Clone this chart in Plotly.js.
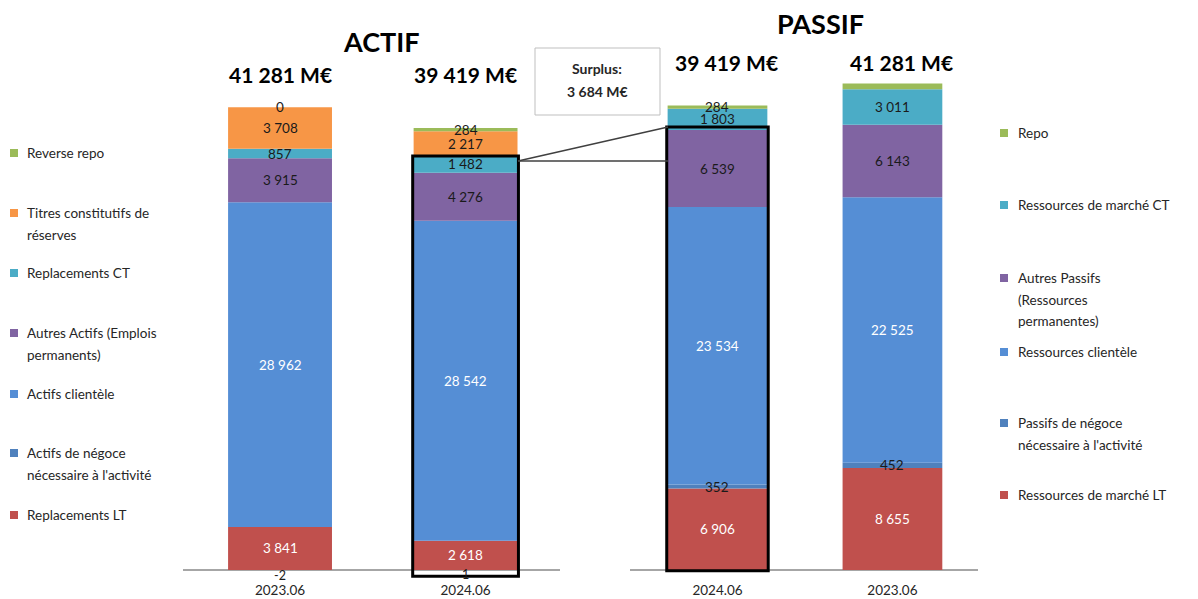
<!DOCTYPE html>
<html><head><meta charset="utf-8">
<script src="https://cdn.plot.ly/plotly-3.0.1.min.js"></script>
<style>html,body{margin:0;padding:0;background:#fff}#chart{width:1198px;height:599px}</style>
</head><body><div id="chart"></div>
<script>
// ---------- DATA ----------
const actifCats = ['2023.06', '2024.06'];
const actifNames = ['Replacements LT', "Actifs de négoce<br>nécessaire à l'activité", 'Actifs clientèle',
  'Autres Actifs (Emplois<br>permanents)', 'Replacements CT', 'Titres constitutifs de<br>réserves', 'Reverse repo'];
const actifReplLT = [3841, 2618];
const actifNegoce = [-2, 1];
const actifClientele = [28962, 28542];
const actifAutres = [3915, 4276];
const actifReplCT = [857, 1482];
const actifTitres = [3708, 2217];
const actifRevRepo = [0, 284];
const actifTotals = [41281, 39419];

const passifCats = ['2024.06', '2023.06'];
const passifNames = ['Ressources de marché LT', "Passifs de négoce<br>nécessaire à l'activité", 'Ressources clientèle',
  'Autres Passifs<br>(Ressources<br>permanentes)', 'Ressources de marché CT', 'Repo'];
const passifResLT = [6906, 8655];
const passifNegoce = [352, 452];
const passifClientele = [23534, 22525];
const passifAutres = [6539, 6143];
const passifResCT = [1803, 3011];
const passifRepo = [284, 495];
const passifTotals = [39419, 41281];
const passifLabelShown = [[true,true],[true,true],[true,true],[true,true],[true,true],[true,false]];

const surplus = 3684;

// ---------- STYLE ----------
const W = 1198, H = 599;
const px = x => x / W, py = y => 1 - y / H;
const FONT = 'Lato, "Open Sans", sans-serif';
const actifColors = ['#C0504D', '#4F81BD', '#558ED5', '#8064A2', '#4BACC6', '#F79646', '#9BBB59'];
const passifColors = ['#C0504D', '#4F81BD', '#558ED5', '#8064A2', '#4BACC6', '#9BBB59'];
const whiteLabel = [true, false, true, false, false, false, false];

const actifSeries = [actifReplLT, actifNegoce, actifClientele, actifAutres, actifReplCT, actifTitres, actifRevRepo];
const passifSeries = [passifResLT, passifNegoce, passifClientele, passifAutres, passifResCT, passifRepo];

function fmt(n) {
  const s = String(Math.abs(n)).replace(/\B(?=(\d{3})+(?!\d))/g, ' ');
  return (n < 0 ? '-' : '') + s;
}

const traces = [];
const annotations = [];
const shapes = [];

function buildStack(series, names, colors, cats, xa, ya, width, shownMask, order, smallIdx) {
  const pos = cats.map(() => 0), neg = cats.map(() => 0);
  const tops = {};
  order.forEach(i => {
    const vals = series[i];
    traces.push({
      type: 'bar', x: cats, y: vals, name: names[i].replace(/<br>/g, ' '),
      marker: { color: colors[i], line: { width: 0 } }, width: width,
      xaxis: xa, yaxis: ya, showlegend: false, hoverinfo: 'x+y+name'
    });
    const t = [];
    vals.forEach((v, j) => {
      let c;
      if (v >= 0) { c = pos[j] + v / 2; pos[j] += v; }
      else { c = neg[j] + v / 2; neg[j] += v; }
      t.push(pos[j]);
      if (!shownMask || shownMask[i][j]) {
        const small = (i === smallIdx);
        annotations.push({
          xref: xa, yref: ya, x: j, y: c, text: fmt(v), showarrow: false,
          xanchor: 'center', yanchor: 'middle',
          yshift: small ? -5 : 0,
          font: { family: FONT, size: small ? 12.5 : 13.5, color: whiteLabel[i] ? '#ffffff' : '#1a1a1a' }
        });
      }
    });
    tops[i] = t;
  });
  return tops;
}

const actifTops = buildStack(actifSeries, actifNames, actifColors, actifCats, 'x', 'y', 0.56, null, [1, 0, 2, 3, 4, 5, 6], 1);
const passifTops = buildStack(passifSeries, passifNames, passifColors, passifCats, 'x2', 'y2', 0.57, passifLabelShown, [0, 1, 2, 3, 4, 5], -1);

// totals headings
actifCats.forEach((c, j) => annotations.push({
  xref: 'x', yref: 'paper', x: j, y: py(75), xanchor: 'center', yanchor: 'middle',
  text: '<b>' + fmt(actifTotals[j]) + ' M€</b>',
  showarrow: false, font: { family: FONT, size: 21, color: '#000' }
}));
passifCats.forEach((c, j) => annotations.push({
  xref: 'x2', yref: 'paper', x: j + 0.05, y: py(62), xanchor: 'center', yanchor: 'middle',
  text: '<b>' + fmt(passifTotals[j]) + ' M€</b>',
  showarrow: false, font: { family: FONT, size: 21, color: '#000' }
}));
annotations.push({ xref: 'paper', yref: 'paper', x: px(381), y: py(42), xanchor: 'center', yanchor: 'middle',
  text: '<b>ACTIF</b>', showarrow: false, font: { family: FONT, size: 27, color: '#000' } });
annotations.push({ xref: 'paper', yref: 'paper', x: px(820), y: py(24), xanchor: 'center', yanchor: 'middle',
  text: '<b>PASSIF</b>', showarrow: false, font: { family: FONT, size: 27, color: '#000' } });

// surplus box
shapes.push({ type: 'rect', xref: 'paper', yref: 'paper', x0: px(535), x1: px(660), y0: py(115), y1: py(48),
  line: { color: '#bfbfbf', width: 1 }, fillcolor: '#ffffff' });
annotations.push({ xref: 'paper', yref: 'paper', x: px(597), y: py(69), xanchor: 'center', yanchor: 'middle',
  text: '<b>Surplus:</b>', showarrow: false, font: { family: FONT, size: 14, color: '#262626' } });
annotations.push({ xref: 'paper', yref: 'paper', x: px(597), y: py(91), xanchor: 'center', yanchor: 'middle',
  text: '<b>' + fmt(surplus) + ' M€</b>', showarrow: false, font: { family: FONT, size: 14, color: '#262626' } });

// highlight rectangles
shapes.push({ type: 'rect', xref: 'x', yref: 'y', x0: 1 - 0.285, x1: 1 + 0.285, y0: -560, y1: actifTops[4][1],
  line: { color: '#000', width: 3 } });
shapes.push({ type: 'rect', xref: 'x2', yref: 'y2', x0: -0.29, x1: 0.29, y0: -60, y1: passifTops[3][0] + 250,
  line: { color: '#000', width: 3 } });
// connectors
shapes.push({ type: 'line', xref: 'paper', yref: 'paper', x0: px(518), y0: py(161), x1: px(668), y1: py(127),
  line: { color: '#404040', width: 1.5 } });
shapes.push({ type: 'line', xref: 'paper', yref: 'paper', x0: px(518), y0: py(161), x1: px(668), y1: py(161),
  line: { color: '#404040', width: 1.5 } });

// legends
function legend(names, colors, ys, mx, tx) {
  names.forEach((n, i) => {
    const y = ys[i];
    shapes.push({ type: 'rect', xref: 'paper', yref: 'paper', x0: px(mx), x1: px(mx + 8), y0: py(y + 4), y1: py(y - 4),
      fillcolor: colors[i], line: { width: 0 } });
    n.split('<br>').forEach((line, k) => annotations.push({
      xref: 'paper', yref: 'paper', x: px(tx), y: py(y + k * 21.5), xanchor: 'left', yanchor: 'middle',
      text: line, showarrow: false, font: { family: FONT, size: 13.5, color: '#262626' }
    }));
  });
}
// legend top-to-bottom is reverse of stack
legend(actifNames.slice().reverse(), actifColors.slice().reverse(), [153, 213, 273, 333, 394, 453, 515], 10, 25);
legend(passifNames.slice().reverse(), passifColors.slice().reverse(), [133, 205, 278, 352, 423, 495], 1000, 1016);

const yTop = 60, yBot = 580, base = 570;
const kL = 89.2, kR = 84.85;
const layout = {
  width: W, height: H, margin: { l: 0, r: 0, t: 0, b: 0 },
  paper_bgcolor: '#fff', plot_bgcolor: 'rgba(0,0,0,0)',
  barmode: 'relative', showlegend: false,
  font: { family: FONT },
  xaxis: { domain: [px(183), px(560)], type: 'category', range: [-0.523, 1.509], showgrid: false, showline: false,
    ticks: '', tickfont: { family: FONT, size: 13.5, color: '#262626' }, anchor: 'y', fixedrange: true },
  yaxis: { domain: [py(yBot), py(yTop)], range: [-(yBot - base) * kL, (base - yTop) * kL], showgrid: false,
    showticklabels: false, zeroline: true, zerolinecolor: '#a6a6a6', zerolinewidth: 1.2, anchor: 'x', fixedrange: true },
  xaxis2: { domain: [px(630), px(978)], type: 'category', range: [-0.5, 1.489], showgrid: false, showline: false,
    ticks: '', tickfont: { family: FONT, size: 13.5, color: '#262626' }, anchor: 'y2', fixedrange: true },
  yaxis2: { domain: [py(yBot), py(yTop)], range: [-(yBot - base) * kR, (base - yTop) * kR], showgrid: false,
    showticklabels: false, zeroline: true, zerolinecolor: '#a6a6a6', zerolinewidth: 1.2, anchor: 'x2', fixedrange: true },
  annotations: annotations, shapes: shapes
};
Plotly.newPlot('chart', traces, layout, { staticPlot: true, displayModeBar: false });
</script></body></html>
